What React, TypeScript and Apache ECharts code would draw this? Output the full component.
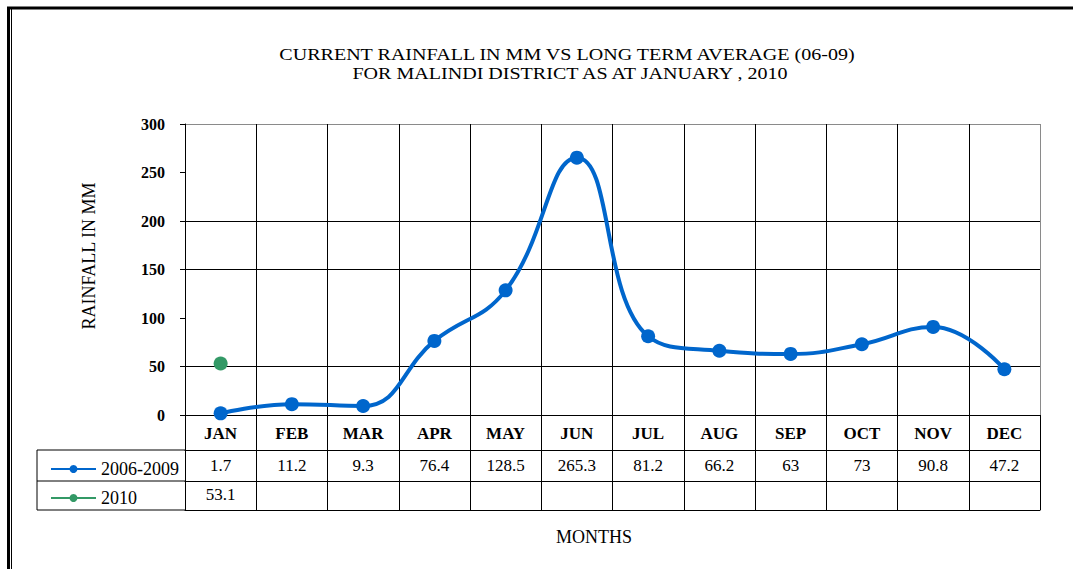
import React, { useEffect, useRef } from "react";
import * as echarts from "echarts";

const months = ["JAN", "FEB", "MAR", "APR", "MAY", "JUN", "JUL", "AUG", "SEP", "OCT", "NOV", "DEC"];
const avg0609 = [1.7, 11.2, 9.3, 76.4, 128.5, 265.3, 81.2, 66.2, 63, 73, 90.8, 47.2];
const rain2010: (number | null)[] = [53.1, null, null, null, null, null, null, null, null, null, null, null];
const seriesNames = ["2006-2009", "2010"];
const yTicks = { min: 0, max: 300, interval: 50 };
const titleLines = [
  "CURRENT RAINFALL IN MM VS LONG TERM AVERAGE (06-09)",
  "FOR MALINDI DISTRICT AS AT JANUARY , 2010",
];
const yTitle = "RAINFALL IN MM";
const xTitle = "MONTHS";

const FONT = "'Liberation Serif', 'Times New Roman', serif";
const BLUE = "#0066CC";
const GREEN = "#339966";

export default function App() {
  const ref = useRef<HTMLDivElement>(null);
  useEffect(() => {
    if (!ref.current) return;
    const chart = echarts.init(ref.current, null, { renderer: "svg" });
    const gridL = 185, gridR = 1040, gridT = 124, gridB = 415;
    const tableLeft = 37;
    const row1 = 450, row2 = 481, row3 = 510;

    const hidden = { show: false };
    const tableAxis = (offset: number, values: (number | null)[] | null, margin: number) => ({
      type: "category",
      gridIndex: 0,
      position: "bottom",
      offset,
      data: months,
      axisLine: { show: true, lineStyle: { color: "#000", width: 1 } },
      axisTick: hidden,
      splitLine: hidden,
      axisLabel: values
        ? {
            show: true,
            interval: 0,
            margin,
            fontFamily: FONT,
            fontSize: 17,
            color: "#000",
            formatter: (_v: string, i: number) => (values[i] == null ? "" : String(values[i])),
          }
        : hidden,
    });

    const splitY = ["#000", "#000", "rgba(0,0,0,0)", "#000", "#000", "rgba(0,0,0,0)", "#8a8a8a"];
    const splitX = months.map(() => "#000").concat(["#8a8a8a"]);

    chart.setOption({
      animation: false,
      backgroundColor: "#fff",
      grid: { left: gridL, right: 1073 - gridR, top: gridT, bottom: 569 - gridB },
      legend: {
        orient: "vertical",
        left: 45,
        top: 455,
        itemGap: 11,
        itemWidth: 45,
        itemHeight: 10,
        lineStyle: { width: 2 },
        textStyle: { fontFamily: FONT, fontSize: 18, color: "#000" },
        data: seriesNames,
      },
      xAxis: [
        {
          type: "category",
          gridIndex: 0,
          position: "bottom",
          data: months,
          boundaryGap: true,
          axisLine: { show: true, lineStyle: { color: "#000", width: 1 } },
          axisTick: {
            show: true,
            interval: 0,
            length: row3 - gridB,
            lineStyle: { color: "#000", width: 1 },
          },
          splitLine: { show: true, interval: 0, lineStyle: { color: splitX, width: 1 } },
          axisLabel: {
            interval: 0,
            margin: 10,
            fontFamily: FONT,
            fontSize: 17,
            fontWeight: "bold",
            color: "#000",
          },
        },
        tableAxis(row1 - gridB, avg0609, 7),
        tableAxis(row2 - gridB, rain2010, 5),
        tableAxis(row3 - gridB, null, 0),
      ],
      yAxis: {
        type: "value",
        min: yTicks.min,
        max: yTicks.max,
        interval: yTicks.interval,
        axisLine: { show: true, lineStyle: { color: "#000", width: 1 } },
        axisTick: { show: true, length: 5, lineStyle: { color: "#000" } },
        splitLine: { show: true, lineStyle: { color: splitY, width: 1 } },
        axisLabel: {
          margin: 20,
          fontFamily: FONT,
          fontSize: 16,
          fontWeight: "bold",
          color: "#000",
        },
      },
      series: [
        {
          name: seriesNames[0],
          type: "line",
          xAxisIndex: 0,
          data: avg0609,
          smooth: 0.45,
          symbol: "circle",
          symbolSize: 14,
          itemStyle: { color: BLUE },
          lineStyle: { color: BLUE, width: 4 },
          z: 3,
        },
        {
          name: seriesNames[1],
          type: "line",
          xAxisIndex: 0,
          data: rain2010,
          symbol: "circle",
          symbolSize: 14,
          itemStyle: { color: GREEN },
          lineStyle: { color: GREEN, width: 4 },
          z: 3,
        },
      ],
      graphic: [
        // outer frame
        { type: "line", shape: { x1: 7, y1: 8, x2: 1073, y2: 8 }, style: { stroke: "#000", lineWidth: 3 } },
        { type: "line", shape: { x1: 8.5, y1: 7, x2: 8.5, y2: 569 }, style: { stroke: "#000", lineWidth: 3 } },
        { type: "line", shape: { x1: 11.5, y1: 9, x2: 11.5, y2: 569 }, style: { stroke: "#000", lineWidth: 1 } },
        // legend column of the data table
        { type: "line", shape: { x1: tableLeft, y1: row1, x2: gridL, y2: row1 }, style: { stroke: "#000", lineWidth: 1 } },
        { type: "line", shape: { x1: tableLeft, y1: row2, x2: gridL, y2: row2 }, style: { stroke: "#000", lineWidth: 1 } },
        { type: "line", shape: { x1: tableLeft, y1: row3, x2: gridL, y2: row3 }, style: { stroke: "#000", lineWidth: 1 } },
        { type: "line", shape: { x1: tableLeft, y1: row1, x2: tableLeft, y2: row3 }, style: { stroke: "#000", lineWidth: 1 } },
        // titles
        {
          type: "text",
          x: 567,
          y: 54,
          scaleX: 1.18,
          style: {
            text: titleLines[0],
            fontFamily: FONT,
            fontSize: 17,
            fill: "#000",
            textAlign: "center",
            textVerticalAlign: "middle",
          },
        },
        {
          type: "text",
          x: 570,
          y: 73,
          scaleX: 1.18,
          style: {
            text: titleLines[1],
            fontFamily: FONT,
            fontSize: 17,
            fill: "#000",
            textAlign: "center",
            textVerticalAlign: "middle",
          },
        },
        {
          type: "text",
          x: 89,
          y: 256,
          rotation: Math.PI / 2,
          style: {
            text: yTitle,
            fontFamily: FONT,
            fontSize: 18,
            fill: "#000",
            textAlign: "center",
            textVerticalAlign: "middle",
          },
        },
        {
          type: "text",
          x: 594,
          y: 537,
          style: {
            text: xTitle,
            fontFamily: FONT,
            fontSize: 18,
            fill: "#000",
            textAlign: "center",
            textVerticalAlign: "middle",
          },
        },
      ],
    });
    return () => chart.dispose();
  }, []);
  return (
    <div
      ref={ref}
      style={{ position: "absolute", left: 0, top: 0, width: 1073, height: 569, background: "#fff" }}
    />
  );
}
